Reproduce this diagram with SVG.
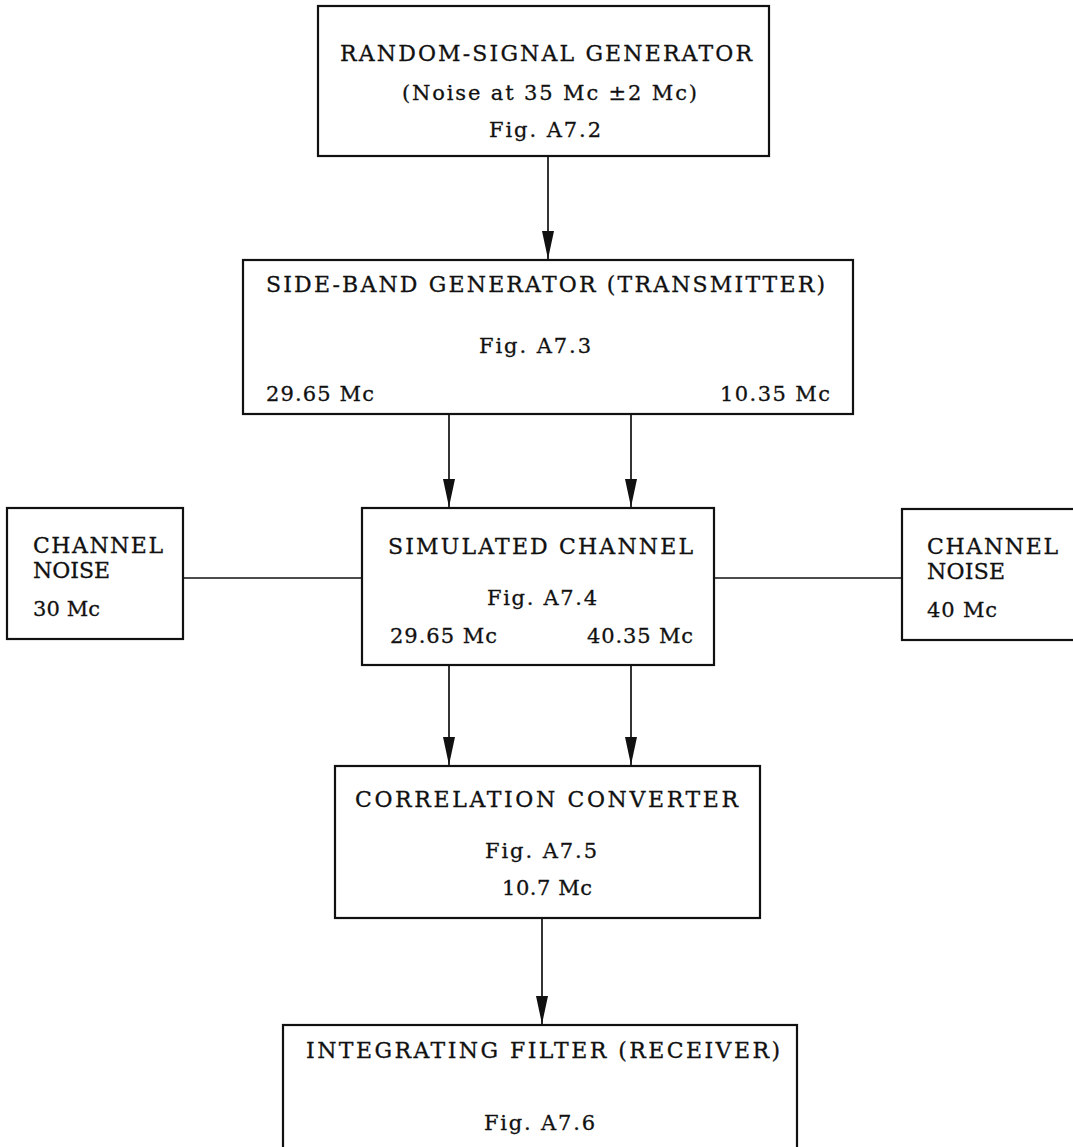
<svg xmlns="http://www.w3.org/2000/svg" width="1073" height="1147" viewBox="0 0 1073 1147">
<defs>
<style>
.box{fill:#fff;stroke:#111;stroke-width:2.2}
.ln{stroke:#111;stroke-width:1.7;fill:none}
.t{font-family:"DejaVu Serif","Liberation Serif",serif;font-size:22px;fill:#111;stroke:#111;stroke-width:0.3}
.s{font-family:"DejaVu Serif","Liberation Serif",serif;font-size:21px;fill:#111;stroke:#111;stroke-width:0.3}
</style>
<marker id="ah" markerUnits="userSpaceOnUse" markerWidth="30" markerHeight="14" viewBox="0 -7 30 14" refX="28" refY="0" orient="auto">
<path d="M0,-6 L28,0 L0,6 Z" fill="#111"/>
</marker>
</defs>
<rect width="1073" height="1147" fill="#fff"/>
<g id="connectors">
<line class="ln" x1="548" y1="156" x2="548" y2="259" marker-end="url(#ah)"/>
<line class="ln" x1="449" y1="414" x2="449" y2="507" marker-end="url(#ah)"/>
<line class="ln" x1="631" y1="414" x2="631" y2="507" marker-end="url(#ah)"/>
<line class="ln" x1="183" y1="578" x2="362" y2="578"/>
<line class="ln" x1="714" y1="578" x2="902" y2="578"/>
<line class="ln" x1="449" y1="665" x2="449" y2="765" marker-end="url(#ah)"/>
<line class="ln" x1="631" y1="665" x2="631" y2="765" marker-end="url(#ah)"/>
<line class="ln" x1="542" y1="918" x2="542" y2="1024" marker-end="url(#ah)"/>
</g>
<g id="random-signal-generator">
<rect class="box" x="318" y="6" width="451" height="150"/>
<text class="t" x="340" y="61" textLength="412" lengthAdjust="spacing">RANDOM-SIGNAL GENERATOR</text>
<text class="s" x="402" y="100" textLength="295" lengthAdjust="spacing">(Noise at 35 Mc ±2 Mc)</text>
<text class="s" x="489" y="137" textLength="112" lengthAdjust="spacing">Fig. A7.2</text>
</g>
<g id="side-band-generator">
<rect class="box" x="243" y="260" width="610" height="154"/>
<text class="t" x="266" y="292" textLength="559" lengthAdjust="spacing">SIDE-BAND GENERATOR (TRANSMITTER)</text>
<text class="s" x="479" y="353" textLength="112" lengthAdjust="spacing">Fig. A7.3</text>
<text class="s" x="266" y="401" textLength="108" lengthAdjust="spacing">29.65 Mc</text>
<text class="s" x="720" y="401" textLength="110" lengthAdjust="spacing">10.35 Mc</text>
</g>
<g id="channel-noise-30">
<rect class="box" x="7" y="508" width="176" height="131"/>
<text class="t" x="33" y="553" textLength="130" lengthAdjust="spacing">CHANNEL</text>
<text class="t" x="33" y="578" textLength="77" lengthAdjust="spacing">NOISE</text>
<text class="s" x="33" y="616" textLength="67" lengthAdjust="spacing">30 Mc</text>
</g>
<g id="simulated-channel">
<rect class="box" x="362" y="508" width="352" height="157"/>
<text class="t" x="388" y="554" textLength="305" lengthAdjust="spacing">SIMULATED CHANNEL</text>
<text class="s" x="487" y="605" textLength="110" lengthAdjust="spacing">Fig. A7.4</text>
<text class="s" x="390" y="643" textLength="107" lengthAdjust="spacing">29.65 Mc</text>
<text class="s" x="587" y="643" textLength="106" lengthAdjust="spacing">40.35 Mc</text>
</g>
<g id="channel-noise-40">
<rect class="box" x="902" y="509" width="200" height="131"/>
<text class="t" x="927" y="554" textLength="131" lengthAdjust="spacing">CHANNEL</text>
<text class="t" x="927" y="579" textLength="78" lengthAdjust="spacing">NOISE</text>
<text class="s" x="927" y="617" textLength="70" lengthAdjust="spacing">40 Mc</text>
</g>
<g id="correlation-converter">
<rect class="box" x="335" y="766" width="425" height="152"/>
<text class="t" x="355" y="807" textLength="383" lengthAdjust="spacing">CORRELATION  CONVERTER</text>
<text class="s" x="485" y="858" textLength="112" lengthAdjust="spacing">Fig. A7.5</text>
<text class="s" x="502" y="895" textLength="90" lengthAdjust="spacing">10.7 Mc</text>
</g>
<g id="integrating-filter">
<rect class="box" x="283" y="1025" width="514" height="140"/>
<text class="t" x="306" y="1058" textLength="474" lengthAdjust="spacing">INTEGRATING FILTER (RECEIVER)</text>
<text class="s" x="484" y="1130" textLength="111" lengthAdjust="spacing">Fig. A7.6</text>
</g>
</svg>
